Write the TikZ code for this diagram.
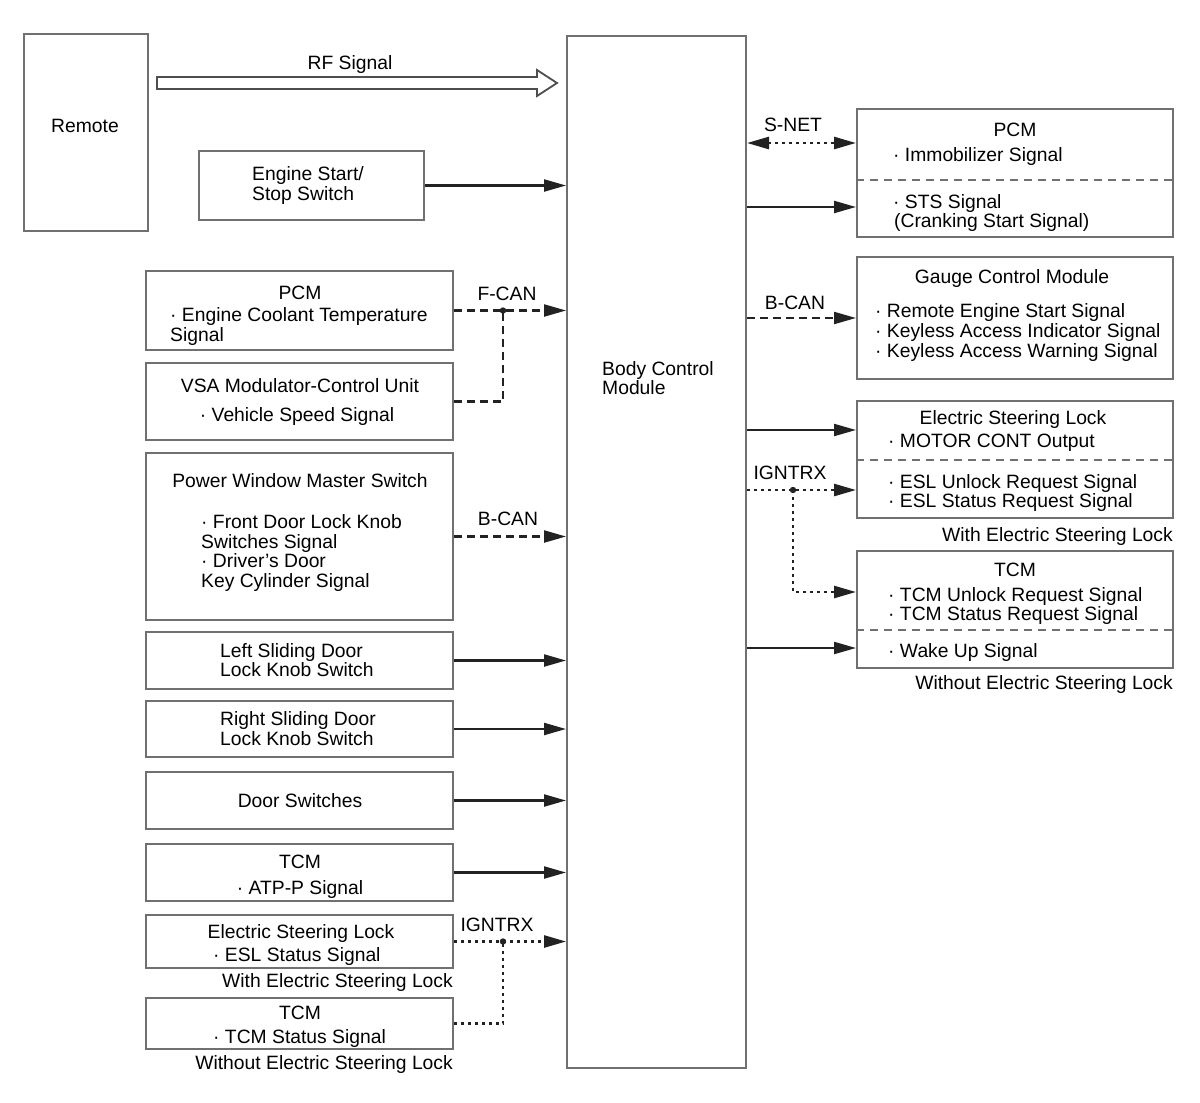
\documentclass[tikz,border=0pt]{standalone}
\usepackage{fontspec}
\setmainfont{Liberation Sans}
\usetikzlibrary{arrows.meta}
\newcommand\diafont{\fontsize{19.3}{20}\selectfont}
\definecolor{boxgray}{HTML}{707070}
\definecolor{linec}{HTML}{222222}
\tikzset{
  box/.style={draw=boxgray, line width=2pt, inner sep=0pt, fill=white},
  txt/.style={inner sep=0pt, font=\diafont, text=black, yshift=-3.5pt},
  tipA/.tip={Triangle[length=22pt,width=12pt]},
  conn/.style={draw=linec, line width=2.2pt, -tipA},
  dashc/.style={conn, dash pattern=on 8pt off 5pt},
  dashline/.style={draw=linec, line width=2.2pt, dash pattern=on 8pt off 5pt},
  dotc/.style={conn, line width=2.6pt, dash pattern=on 2.6pt off 4.4pt},
  dotline/.style={draw=linec, line width=2.6pt, dash pattern=on 2.6pt off 4.4pt},
  divider/.style={draw=boxgray, line width=1.8pt, dash pattern=on 8pt off 6pt},
}
\begin{document}
\begin{tikzpicture}[x=1pt,y=-1pt]
\useasboundingbox (0,0) rectangle (1200,1103);
\fill[white] (0,0) rectangle (1200,1103);

% ---------- boxes ----------
\node[box, minimum width=124pt, minimum height=197pt] (remote) at (86,132.5) {};
\node[box, minimum width=179pt, minimum height=1032pt] (bcm) at (656.5,552) {};
\node[box, minimum width=225pt, minimum height=69pt] (ess) at (311.5,185.5) {};
\node[box, minimum width=307pt, minimum height=79pt] (pcmL) at (299.5,310.5) {};
\node[box, minimum width=307pt, minimum height=77pt] (vsa) at (299.5,401.5) {};
\node[box, minimum width=307pt, minimum height=167pt] (pws) at (299.5,536.5) {};
\node[box, minimum width=307pt, minimum height=57pt] (lsd) at (299.5,660.5) {};
\node[box, minimum width=307pt, minimum height=56pt] (rsd) at (299.5,729) {};
\node[box, minimum width=307pt, minimum height=57pt] (ds) at (299.5,800.5) {};
\node[box, minimum width=307pt, minimum height=57pt] (tcmL) at (299.5,872.5) {};
\node[box, minimum width=307pt, minimum height=53pt] (eslL) at (299.5,941.5) {};
\node[box, minimum width=307pt, minimum height=51pt] (tcmLb) at (299.5,1023.5) {};

\node[box, minimum width=316pt, minimum height=128pt] (pcmR) at (1015,173) {};
\node[box, minimum width=316pt, minimum height=122pt] (gcm) at (1015,318) {};
\node[box, minimum width=316pt, minimum height=117pt] (eslR) at (1015,459.5) {};
\node[box, minimum width=316pt, minimum height=117pt] (tcmR) at (1015,609.5) {};

% dividers
\draw[divider] (pcmR.west |- 0,180) -- (pcmR.east |- 0,180);
\draw[divider] (eslR.west |- 0,460) -- (eslR.east |- 0,460);
\draw[divider] (tcmR.west |- 0,630) -- (tcmR.east |- 0,630);

% ---------- RF hollow arrow ----------
\draw[draw=linec!80, line width=1.8pt, fill=white, line join=miter]
  (157,77) -- (537,77) -- (537,70) -- (557,83) -- (537,96) -- (537,89) -- (157,89) -- cycle;

% ---------- left connectors ----------
\draw[conn] (ess.east) -- (ess.east -| bcm.west);
\coordinate (j1) at (503,310.5);
\draw[dashc] (pcmL.east) -- (pcmL.east -| bcm.west);
\draw[dashline] (vsa.east) -| (j1);
\fill[linec] (j1) circle (3.2pt);
\draw[dashc] (pws.east) -- (pws.east -| bcm.west);
\draw[conn] (lsd.east) -- (lsd.east -| bcm.west);
\draw[conn] (rsd.east) -- (rsd.east -| bcm.west);
\draw[conn] (ds.east) -- (ds.east -| bcm.west);
\draw[conn] (tcmL.east) -- (tcmL.east -| bcm.west);
\coordinate (j2) at (503,941.5);
\draw[dotc] (eslL.east) -- (eslL.east -| bcm.west);
\draw[dotline] (tcmLb.east) -| (j2);
\fill[linec] (j2) circle (3.2pt);

% ---------- right connectors ----------
\draw[dotc, tipA-tipA] (bcm.east |- 0,143) -- (pcmR.west |- 0,143);
\draw[conn] (bcm.east |- 0,207) -- (pcmR.west |- 0,207);
\draw[dashc] (bcm.east |- gcm.west) -- (gcm.west);
\draw[conn] (bcm.east |- 0,430) -- (eslR.west |- 0,430);
\coordinate (j3) at (793,490);
\draw[dotc] (bcm.east |- 0,490) -- (eslR.west |- 0,490);
\coordinate (j4) at (793,592);
\draw[dotc] (j3) -- (j4) -- (tcmR.west |- j4);
\fill[linec] (j3) circle (3.2pt);
\draw[conn] (bcm.east |- 0,648) -- (tcmR.west |- 0,648);

% ---------- texts left ----------
\node[txt, anchor=mid] (t1) at (85,126) {Remote};
\node[txt, anchor=mid] (t2) at (350,63) {RF Signal};
\node[txt, anchor=mid west] (t3) at (252,174) {Engine Start/};
\node[txt, anchor=mid west] (t4) at (252,194) {Stop Switch};
\node[txt, anchor=mid west] (t5) at (602,369) {Body Control};
\node[txt, anchor=mid west] (t6) at (602,388) {Module};
\node[txt, anchor=mid] (t7) at (300,293) {PCM};
\node[txt, anchor=mid west] (t8) at (170,315) {·\ Engine Coolant Temperature};
\node[txt, anchor=mid west] (t9) at (170,335) {Signal};
\node[txt, anchor=mid] (t10) at (507,294) {F-CAN};
\node[txt, anchor=mid] (t11) at (300,386) {VSA Modulator-Control Unit};
\node[txt, anchor=mid] (t12) at (297,415) {·\ Vehicle Speed Signal};
\node[txt, anchor=mid] (t13) at (300,481) {Power Window Master Switch};
\node[txt, anchor=mid west] (t14) at (201,522) {·\ Front Door Lock Knob};
\node[txt, anchor=mid west] (t15) at (201,542) {Switches Signal};
\node[txt, anchor=mid west] (t16) at (201,561) {·\ Driver’s Door};
\node[txt, anchor=mid west] (t17) at (201,581) {Key Cylinder Signal};
\node[txt, anchor=mid] (t18) at (508,519) {B-CAN};
\node[txt, anchor=mid west] (t19) at (220,651) {Left Sliding Door};
\node[txt, anchor=mid west] (t20) at (220,670) {Lock Knob Switch};
\node[txt, anchor=mid west] (t21) at (220,719) {Right Sliding Door};
\node[txt, anchor=mid west] (t22) at (220,739) {Lock Knob Switch};
\node[txt, anchor=mid] (t23) at (300,801) {Door Switches};
\node[txt, anchor=mid] (t24) at (300,862) {TCM};
\node[txt, anchor=mid] (t25) at (300,888) {·\ ATP-P Signal};
\node[txt, anchor=mid] (t26) at (301,932) {Electric Steering Lock};
\node[txt, anchor=mid west] (t27) at (213,955) {·\ ESL Status Signal};
\node[txt, anchor=mid east] (t28) at (453,981) {With Electric Steering Lock};
\node[txt, anchor=mid] (t29) at (497,925) {IGNTRX};
\node[txt, anchor=mid] (t30) at (300,1013) {TCM};
\node[txt, anchor=mid west] (t31) at (213,1037) {·\ TCM Status Signal};
\node[txt, anchor=mid east] (t32) at (453,1063) {Without Electric Steering Lock};

% ---------- texts right ----------
\node[txt, anchor=mid] (t33) at (793,125) {S-NET};
\node[txt, anchor=mid] (t34) at (1015,130) {PCM};
\node[txt, anchor=mid west] (t35) at (893,155) {·\ Immobilizer Signal};
\node[txt, anchor=mid west] (t36) at (893,202) {·\ STS Signal};
\node[txt, anchor=mid west] (t37) at (894,221) {(Cranking Start Signal)};
\node[txt, anchor=mid] (t38) at (795,303) {B-CAN};
\node[txt, anchor=mid] (t39) at (1012,277) {Gauge Control Module};
\node[txt, anchor=mid west] (t40) at (875,311) {·\ Remote Engine Start Signal};
\node[txt, anchor=mid west] (t41) at (875,331) {·\ Keyless Access Indicator Signal};
\node[txt, anchor=mid west] (t42) at (875,351) {·\ Keyless Access Warning Signal};
\node[txt, anchor=mid] (t43) at (1013,418) {Electric Steering Lock};
\node[txt, anchor=mid west] (t44) at (888,441) {·\ MOTOR CONT Output};
\node[txt, anchor=mid] (t45) at (790,473) {IGNTRX};
\node[txt, anchor=mid west] (t46) at (888,482) {·\ ESL Unlock Request Signal};
\node[txt, anchor=mid west] (t47) at (888,501) {·\ ESL Status Request Signal};
\node[txt, anchor=mid east] (t48) at (1173,535) {With Electric Steering Lock};
\node[txt, anchor=mid] (t49) at (1015,570) {TCM};
\node[txt, anchor=mid west] (t50) at (888,595) {·\ TCM Unlock Request Signal};
\node[txt, anchor=mid west] (t51) at (888,614) {·\ TCM Status Request Signal};
\node[txt, anchor=mid west] (t52) at (888,651) {·\ Wake Up Signal};
\node[txt, anchor=mid east] (t53) at (1173,683) {Without Electric Steering Lock};
\end{tikzpicture}
\end{document}
